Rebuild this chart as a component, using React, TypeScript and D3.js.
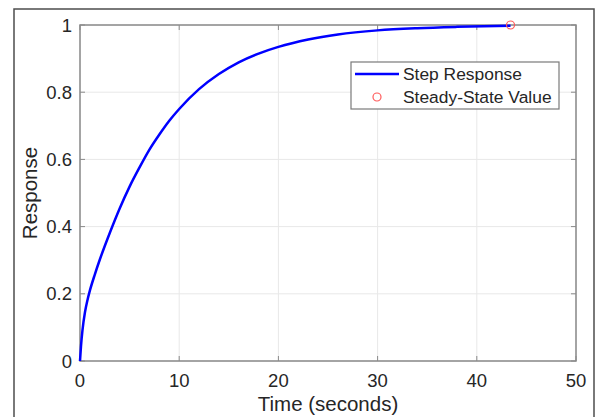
import React from "react";
import * as d3 from "d3";

const timeValues = [0, 0.1, 0.25, 0.5, 0.75, 1, 1.5, 2, 3, 4, 5, 6, 7, 8, 9, 10, 12, 14, 16, 18, 20, 23, 26, 30, 34, 38, 43.4];
const responseValues = [0, 0.044, 0.092, 0.145, 0.181, 0.21, 0.258, 0.302, 0.381, 0.454, 0.519, 0.576, 0.629, 0.674, 0.715, 0.75, 0.809, 0.854, 0.889, 0.915, 0.935, 0.957, 0.972, 0.984, 0.9905, 0.9945, 0.998];
const steadyStateTime = [43.4];
const steadyStateValue = [1.0];
const xTicks = [0, 10, 20, 30, 40, 50];
const yTicks = [0, 0.2, 0.4, 0.6, 0.8, 1];
const legendLabels = ["Step Response", "Steady-State Value"];

const W = 600;
const H = 417;
const L = 80, R = 576, T = 25, B = 361;

export default function App() {
  const x = d3.scaleLinear().domain([0, 50]).range([L, R]);
  const y = d3.scaleLinear().domain([0, 1]).range([B, T]);
  const pts: [number, number][] = timeValues.map((t, i) => [t, responseValues[i]]);
  const line = d3
    .line<[number, number]>()
    .x((d) => x(d[0]))
    .y((d) => y(d[1]))
    .curve(d3.curveMonotoneX);
  const font = "Arial, 'Liberation Sans', Helvetica, sans-serif";
  const textColor = "#262626";
  const axisColor = "#8a8a8a";
  const gridColor = "#e8e8e8";
  const tickLen = 5;

  const lgX = 351, lgY = 62, lgW = 208, lgH = 47;

  return (
    <svg
      width={W}
      height={H}
      style={{ position: "absolute", left: 0, top: 0, display: "block", background: "#fff" }}
      fontFamily={font}
    >
      <rect x={0} y={0} width={W} height={H} fill="#fff" />
      <rect x={14} y={9} width={580} height={420} fill="#fff" stroke="#4d4d4d" strokeWidth={1.5} />
      {xTicks.map((t) => (
        <line key={"gx" + t} x1={x(t)} x2={x(t)} y1={T} y2={B} stroke={gridColor} strokeWidth={1} />
      ))}
      {yTicks.map((t) => (
        <line key={"gy" + t} x1={L} x2={R} y1={y(t)} y2={y(t)} stroke={gridColor} strokeWidth={1} />
      ))}
      {xTicks.map((t) => (
        <g key={"tx" + t}>
          <line x1={x(t)} x2={x(t)} y1={B} y2={B - tickLen} stroke={axisColor} strokeWidth={1} />
          <line x1={x(t)} x2={x(t)} y1={T} y2={T + tickLen} stroke={axisColor} strokeWidth={1} />
          <text x={x(t)} y={387} textAnchor="middle" fontSize={18.5} fill={textColor}>
            {d3.format("~g")(t)}
          </text>
        </g>
      ))}
      {yTicks.map((t) => (
        <g key={"ty" + t}>
          <line x1={L} x2={L + tickLen} y1={y(t)} y2={y(t)} stroke={axisColor} strokeWidth={1} />
          <line x1={R} x2={R - tickLen} y1={y(t)} y2={y(t)} stroke={axisColor} strokeWidth={1} />
          <text x={72} y={y(t) + 6.5} textAnchor="end" fontSize={18.5} fill={textColor}>
            {d3.format("~g")(t)}
          </text>
        </g>
      ))}
      <rect x={L} y={T} width={R - L} height={B - T} fill="none" stroke={axisColor} strokeWidth={1.5} />
      <path d={line(pts) || ""} fill="none" stroke="#0000ff" strokeWidth={2.5} strokeLinejoin="round" />
      {steadyStateTime.map((t, i) => (
        <circle key={"ss" + i} cx={x(t)} cy={y(steadyStateValue[i])} r={4} fill="none" stroke="#ff5a5a" strokeWidth={1.2} />
      ))}
      <text x={(L + R) / 2} y={411} textAnchor="middle" fontSize={20.5} fill={textColor}>
        Time (seconds)
      </text>
      <text
        transform={`translate(37, ${(T + B) / 2}) rotate(-90)`}
        textAnchor="middle"
        fontSize={20.5}
        fill={textColor}
      >
        Response
      </text>
      <rect x={lgX} y={lgY} width={lgW} height={lgH} fill="#fff" stroke="#7a7a7a" strokeWidth={1.2} />
      <line x1={355} x2={399} y1={74} y2={74} stroke="#0000ff" strokeWidth={2.5} />
      <circle cx={377} cy={97} r={4} fill="none" stroke="#ff5a5a" strokeWidth={1.2} />
      <text x={403} y={80} fontSize={17.4} fill={textColor}>
        {legendLabels[0]}
      </text>
      <text x={403} y={103} fontSize={17.4} fill={textColor}>
        {legendLabels[1]}
      </text>
    </svg>
  );
}
